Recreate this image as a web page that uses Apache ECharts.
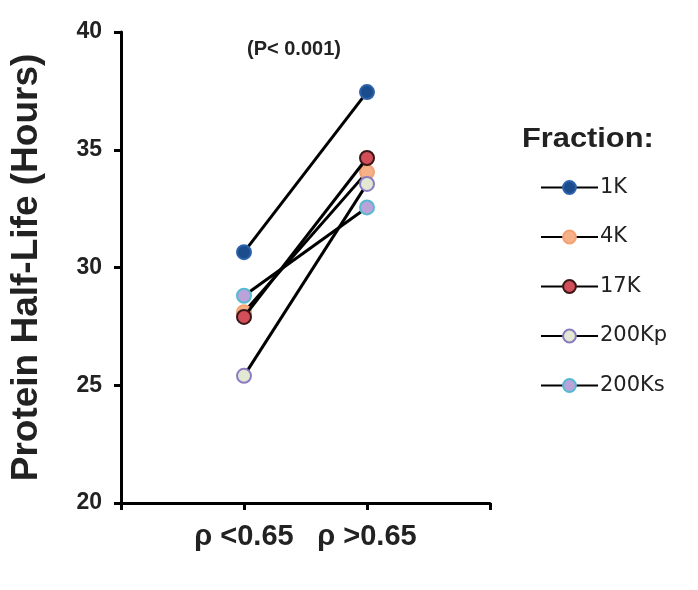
<!DOCTYPE html>
<html>
<head>
<meta charset="utf-8">
<script src="https://cdn.jsdelivr.net/npm/echarts@6/dist/echarts.min.js"></script>
<style>html,body{margin:0;padding:0;background:#fff}#c{width:698px;height:590px}</style>
</head>
<body>
<div id="c"></div>
<script>
// categories (padding entries give the outer ticks)
const categories = ['', 'ρ <0.65', 'ρ >0.65', ''];
const fractions = ['1K', '4K', '17K', '200Kp', '200Ks'];
const low = [30.65, 28.1, 27.9, 25.4, 28.8];
const high = [37.45, 34.05, 34.65, 33.55, 32.55];
const yTicks = [20, 25, 30, 35, 40];

const fills = ['#1b4c8c', '#f6b188', '#d24e58', '#e3e8d3', '#b9a3d9'];
const borders = ['#2c62ab', '#f3a274', '#3a1616', '#8b7cc2', '#58b9d2'];

const chart = echarts.init(document.getElementById('c'));
const font = 'Liberation Sans, Arial, sans-serif';

const series = fractions.map((name, i) => ({
  name: name,
  type: 'line',
  data: [null, low[i], high[i], null],
  symbol: 'circle',
  symbolSize: 14,
  lineStyle: { color: '#000', width: 3 },
  itemStyle: { color: fills[i], borderColor: borders[i], borderWidth: 2 },
  emphasis: { disabled: true },
  z: 2 + i
}));

chart.setOption({
  animation: false,
  backgroundColor: '#fff',
  grid: { left: 117, right: 208, top: 32, bottom: 87, containLabel: false },
  xAxis: {
    type: 'category',
    data: categories,
    boundaryGap: false,
    axisLine: { lineStyle: { color: '#000', width: 3 } },
    axisTick: { show: true, length: 7, lineStyle: { color: '#000', width: 3 }, alignWithLabel: true },
    axisLabel: { color: '#222', fontFamily: font, fontWeight: 'bold', fontSize: 29, margin: 19, interval: 0 },
    splitLine: { show: false }
  },
  yAxis: {
    type: 'value',
    min: yTicks[0],
    max: yTicks[yTicks.length - 1],
    interval: 5,
    axisLine: { show: true, lineStyle: { color: '#000', width: 3 } },
    axisTick: { show: true, length: 7, lineStyle: { color: '#000', width: 3 } },
    axisLabel: { color: '#222', fontFamily: font, fontWeight: 'bold', fontSize: 23, margin: 19 },
    splitLine: { show: false },
    name: 'Protein Half-Life (Hours)',
    nameLocation: 'middle',
    nameGap: 76,
    nameTextStyle: { color: '#222', fontFamily: font, fontWeight: 'bold', fontSize: 37 }
  },
  legend: {
    data: fractions,
    orient: 'vertical',
    left: 540,
    top: 177,
    padding: 0,
    itemWidth: 57,
    itemHeight: 16,
    itemGap: 28.5,
    selectedMode: false,
    textStyle: { color: '#222', fontFamily: 'DejaVu Sans, sans-serif', fontSize: 21, lineHeight: 20, padding: [0, 0, 0, -3] }
  },
  graphic: [
    { type: 'text', left: 522, top: 125, scaleX: 1.1, style: { text: 'Fraction:', font: 'bold 28px Liberation Sans, Arial, sans-serif', fill: '#222' } },
    { type: 'text', left: 247, top: 39, style: { text: '(P< 0.001)', font: 'bold 20px Liberation Sans, Arial, sans-serif', fill: '#222' } }
  ],
  series: series
});
</script>
</body>
</html>
